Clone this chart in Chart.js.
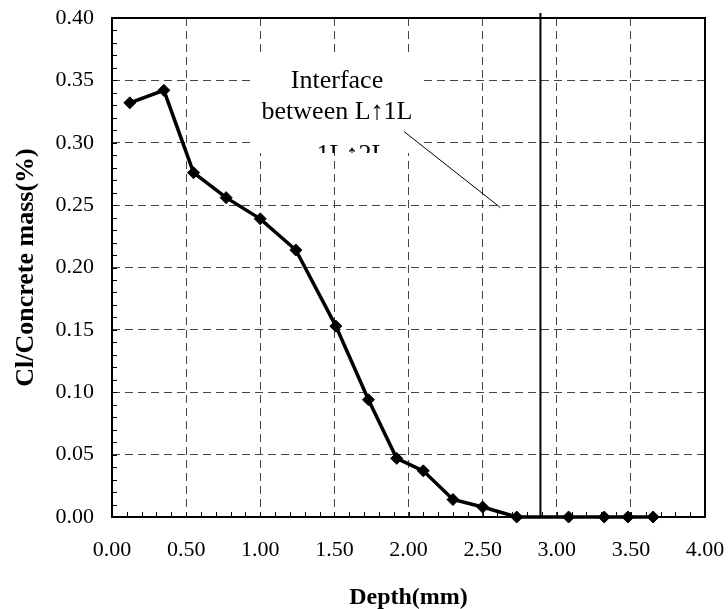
<!DOCTYPE html>
<html>
<head>
<meta charset="utf-8">
<script src="https://cdn.jsdelivr.net/npm/chart.js@4.4.1/dist/chart.umd.min.js"></script>
<style>
  html, body { margin: 0; padding: 0; background: #fff; }
  #wrap { width: 728px; height: 609px; }
</style>
</head>
<body>
<div id="wrap"><canvas id="chlorideChart" width="728" height="609"></canvas></div>
<script>
// Chloride profile
const depth = [0.12, 0.35, 0.55, 0.77, 1.00, 1.24, 1.51, 1.73, 1.92, 2.10, 2.30, 2.50, 2.73, 3.08, 3.32, 3.48, 3.65];
const chloride = [0.332, 0.342, 0.276, 0.256, 0.239, 0.214, 0.153, 0.094, 0.047, 0.037, 0.014, 0.008, 0, 0, 0, 0, 0];

// Axis setup
const xRange = [0, 4];
const yRange = [0, 0.4];
const xStep = 0.5;
const yStep = 0.05;
const xMinorStep = 0.1;
const yMinorStep = 0.01;

// Annotation
const interfaceDepth = 2.89;
const noteLines = ['Interface', 'between L\u21911L', '1L\u21912L'];
const leader = [[1.97, 0.309], [2.62, 0.248]];

const FONT = '"Liberation Serif", "Times New Roman", serif';

// keep Chart.js from shrinking the plot for overhanging tick labels
function noOverhang(s) {
    s.paddingLeft = 0;
    s.paddingRight = 0;
    s.paddingTop = 0;
    s.paddingBottom = 0;
}

const decorations = {
    id: 'decorations',
    beforeDatasetsDraw(chart) {
        // white text box hides the grid behind the note
        const ctx = chart.ctx;
        ctx.save();
        ctx.fillStyle = '#fff';
        ctx.fillRect(250, 53, 173, 100);
        ctx.restore();
    },
    afterDatasetsDraw(chart) {
        const { ctx, chartArea: a, scales: { x, y } } = chart;
        ctx.save();

        // minor ticks, pointing inward
        ctx.strokeStyle = '#000';
        ctx.lineWidth = 1;
        ctx.beginPath();
        for (let i = 1; i < Math.round((xRange[1] - xRange[0]) / xMinorStep); i++) {
            const px = Math.round(x.getPixelForValue(xRange[0] + i * xMinorStep)) + 0.5;
            ctx.moveTo(px, a.bottom);
            ctx.lineTo(px, a.bottom - 5);
        }
        for (let i = 1; i < Math.round((yRange[1] - yRange[0]) / yMinorStep); i++) {
            const py = Math.round(y.getPixelForValue(yRange[0] + i * yMinorStep)) + 0.5;
            ctx.moveTo(a.left, py);
            ctx.lineTo(a.left + 5, py);
        }
        ctx.stroke();

        // plot frame
        ctx.lineWidth = 2;
        ctx.strokeRect(a.left, a.top, a.right - a.left, a.bottom - a.top);

        // interface line
        const ix = x.getPixelForValue(interfaceDepth);
        ctx.beginPath();
        ctx.moveTo(ix, a.top - 5);
        ctx.lineTo(ix, a.bottom);
        ctx.stroke();

        // leader line
        ctx.lineWidth = 1;
        ctx.beginPath();
        ctx.moveTo(x.getPixelForValue(leader[0][0]), y.getPixelForValue(leader[0][1]));
        ctx.lineTo(x.getPixelForValue(leader[1][0]), y.getPixelForValue(leader[1][1]));
        ctx.stroke();

        // note text (last line is cut off by the box edge)
        ctx.fillStyle = '#000';
        ctx.font = '26px ' + FONT;
        ctx.textAlign = 'center';
        ctx.textBaseline = 'alphabetic';
        ctx.fillText(noteLines[0], 337, 88);
        ctx.fillText(noteLines[1], 337, 119);
        ctx.beginPath();
        ctx.rect(250, 53, 173, 100);
        ctx.clip();
        ctx.fillText(noteLines[2], 352, 162);
        ctx.restore();
    }
};

const ctx = document.getElementById('chlorideChart');
new Chart(ctx, {
    type: 'scatter',
    data: {
        datasets: [{
            data: depth.map((d, i) => ({ x: d, y: chloride[i] })),
            showLine: true,
            borderColor: '#000',
            backgroundColor: '#000',
            borderWidth: 3.5,
            pointStyle: 'rectRot',
            pointRadius: 6,
            pointBorderWidth: 1,
            clip: false
        }]
    },
    options: {
        responsive: false,
        animation: false,
        layout: { padding: { top: 18, right: 23, left: 0, bottom: 0 } },
        plugins: { legend: { display: false }, tooltip: { enabled: false } },
        scales: {
            x: {
                type: 'linear',
                min: xRange[0],
                max: xRange[1],
                afterFit: (s) => { s.height = 92; noOverhang(s); },
                ticks: {
                    stepSize: xStep,
                    padding: 20,
                    color: '#000',
                    font: { family: FONT, size: 22 },
                    callback: (v) => v.toFixed(2),
                    maxRotation: 0
                },
                grid: { color: '#444', lineWidth: 1, drawTicks: false },
                border: { display: false, dash: [8, 5] },
                title: {
                    display: true,
                    text: 'Depth(mm)',
                    color: '#000',
                    font: { family: FONT, size: 24, weight: 'bold' },
                    padding: { top: 0, bottom: -3 }
                }
            },
            y: {
                type: 'linear',
                min: yRange[0],
                max: yRange[1],
                afterFit: (s) => { s.width = 112; noOverhang(s); },
                ticks: {
                    stepSize: yStep,
                    padding: 18,
                    color: '#000',
                    font: { family: FONT, size: 22 },
                    callback: (v) => v.toFixed(2)
                },
                grid: { color: '#444', lineWidth: 1, drawTicks: false },
                border: { display: false, dash: [8, 5] },
                title: {
                    display: true,
                    text: 'Cl/Concrete mass(%)',
                    color: '#000',
                    font: { family: FONT, size: 26, weight: 'bold' },
                    padding: { top: 11, bottom: 0 }
                }
            }
        }
    },
    plugins: [decorations]
});
</script>
</body>
</html>
